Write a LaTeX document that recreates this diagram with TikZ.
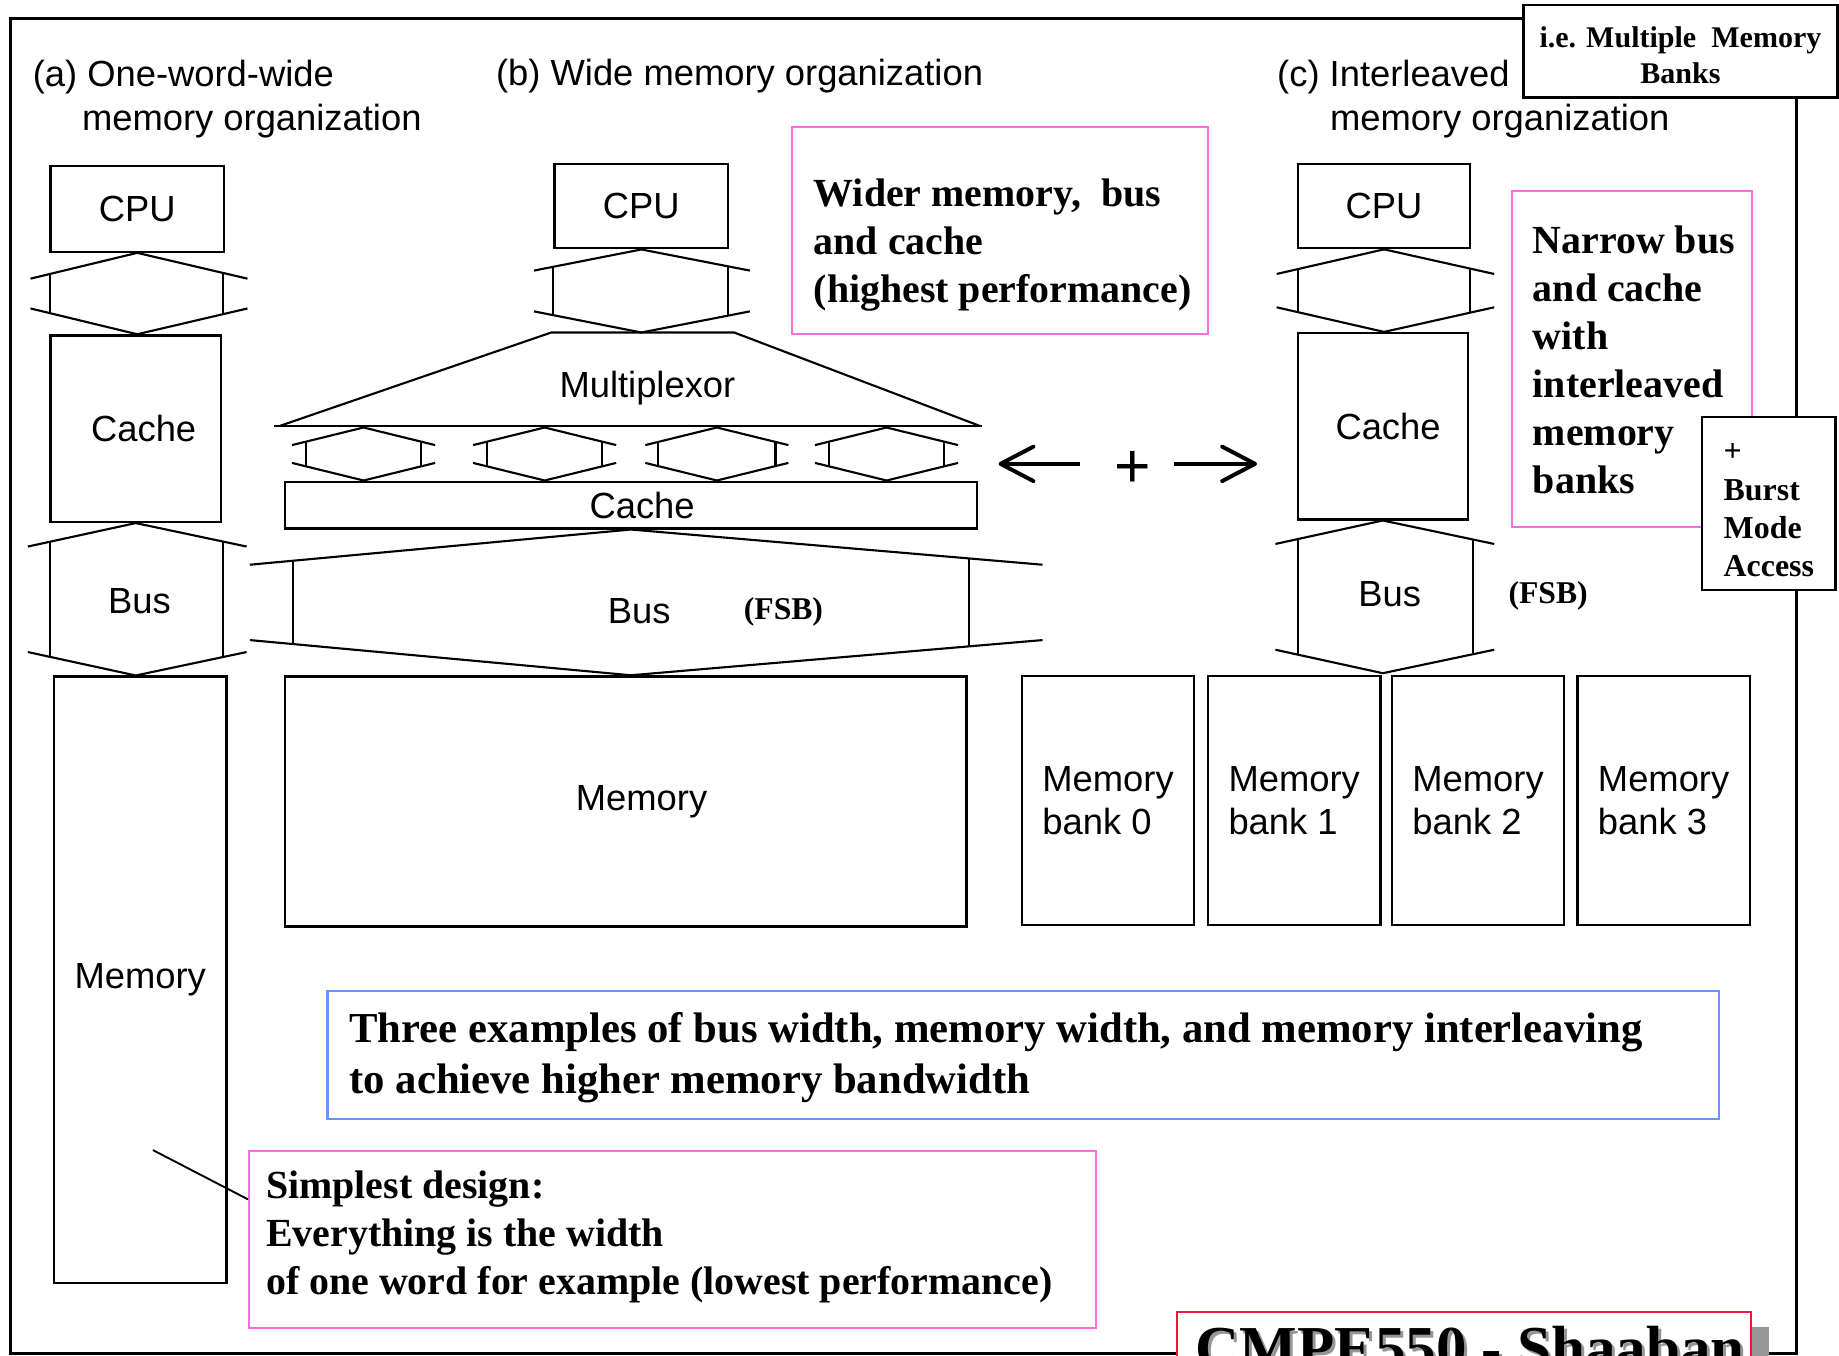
\documentclass[tikz,border=0pt]{standalone}
\usepackage{fontspec}
\setmainfont{Liberation Serif}
\setsansfont{Liberation Sans}
\usetikzlibrary{calc,arrows.meta}

\newlength{\px}
\setlength{\px}{0.75pt}

\definecolor{notepink}{RGB}{242,112,222}
\definecolor{noteblue}{RGB}{104,150,246}
\definecolor{slidered}{RGB}{246,18,56}
\definecolor{shadowgray}{RGB}{150,150,150}

\newcommand{\lblfont}{\sffamily\fontsize{23.25pt}{27.75pt}\selectfont}
\newcommand{\notefont}{\rmfamily\bfseries\fontsize{25.5pt}{30.7pt}\selectfont}

\tikzset{every picture/.style={line width=1.5pt}}
\tikzset{
  blk/.style={draw, line width=1.5pt, inner sep=0pt, font=\lblfont},
  lbl/.style={font=\lblfont, inner sep=0pt},
  busline/.style={line width=1.35pt},
  fsb/.style={font=\rmfamily\bfseries\fontsize{20.25pt}{24pt}\selectfont, inner sep=0pt},
  notebox/.style={draw=notepink, line width=1.3pt, inner sep=0pt},
  notetext/.style={font=\notefont, align=left, anchor=north west, inner sep=0pt},
  slideframe/.style={line width=2.1pt},
  bigarrow/.style={line width=2.55pt, -{Straight Barb[length=21pt,width=22pt,round]}}
}

% wide double headed bus: top apex, bottom point, shaft left/right, barb left/right, head depth
\newcommand{\busar}[7]{%
  \coordinate (bt) at (#1);
  \coordinate (bb) at (#1 |- #2);
  \draw[busline] ($(bt)+(-#5,#7)$) -- (bt) -- ($(bt)+(#6,#7)$);
  \draw[busline] ($(bb)+(-#5,-#7)$) -- (bb) -- ($(bb)+(#6,-#7)$);
  \draw[busline] ($(bt)+(-#3,#7*#3/#5)$) -- ($(bb)+(-#3,-#7*#3/#5)$);
  \draw[busline] ($(bt)+(#4,#7*#4/#6)$) -- ($(bb)+(#4,-#7*#4/#6)$);
}

\begin{document}
\begin{tikzpicture}[x=0.75pt,y=0.75pt,yscale=-1,xscale=1]
\useasboundingbox (0,0) rectangle (1568,1156);
\clip (0,0) rectangle (1568,1156);

% slide frame
\draw[slideframe] (1300,15.5) -- (9,15.5) -- (9,1154) -- (1532,1154) -- (1532,82);

% titles
\node[lbl, anchor=north west, align=left] (titleA) at (27,50.4) {(a) One-word-wide\\\hspace*{42\px}memory organization};
\node[lbl, anchor=base west] (titleB) at (422,73) {(b) Wide memory organization};
\node[lbl, anchor=north west, align=left] (titleC) at (1088,50.4) {(c) Interleaved\\\hspace*{45\px}memory organization};

% (a) one-word-wide
\node[blk, minimum width=148\px, minimum height=73\px] (cpuA) at (117,178.1) {CPU};
\node[blk, minimum width=145.5\px, minimum height=159\px, label={[lbl,xshift=6.75\px]center:Cache}] (cacheA) at (115.75,365.5) {};
\node[blk, minimum width=147\px, minimum height=516.7\px] (memA) at (119.5,835.3) {Memory};
\busar{cpuA.south}{cacheA.north}{74}{73.5}{91}{94}{22}
\busar{cacheA.south}{memA.north}{72.75}{74.25}{92}{94.5}{20}
\node[lbl] (busAlbl) at (119,513) {Bus};

% (b) wide memory
\node[blk, minimum width=148\px, minimum height=71.8\px] (cpuB) at (546.85,175.8) {CPU};
\coordinate (muxTL) at (470,283.5);
\coordinate (muxTR) at (626,283.5);
\coordinate (muxBL) at (239,363);
\coordinate (muxBR) at (835,363);
\draw[busline] (muxBL) -- (muxTL) -- (muxTR) -- (muxBR);
\draw[line width=1.5pt] ($(muxBL)+(-5,0)$) -- ($(muxBR)+(2,0)$);
\node[lbl] (muxlbl) at (552,331) {Multiplexor};
\busar{cpuB.south}{muxTL}{75}{74}{91.5}{92.5}{18}
\node[blk, minimum width=590.2\px, minimum height=39.8\px, label={[lbl,xshift=9.6\px]center:Cache}] (cacheB) at (537.9,430.6) {};
\coordinate (sc1) at (310,364.5);
\coordinate (sc2) at (464.4,364.5);
\coordinate (sc3) at (611.2,364.5);
\coordinate (sc4) at (755.9,364.5);
\busar{sc1}{cacheB.north}{49}{49}{61}{61}{15}
\busar{sc2}{cacheB.north}{49}{49}{61}{61}{15}
\busar{sc3}{cacheB.north}{50}{50}{61}{61}{15}
\busar{sc4}{cacheB.north}{49}{49}{61}{61}{15}
\node[blk, minimum width=581.2\px, minimum height=213.3\px, label={[lbl,xshift=13.6\px]center:Memory}] (memB) at (533.4,683.4) {};
\busar{cacheB.south}{memB.north}{287.9}{288.6}{324.9}{351}{30}
\node[lbl] (busBlbl) at (545,521) {Bus};
\node[fsb] (fsbB) at (668,522) {(FSB)};

% (c) interleaved
\node[blk, minimum width=147\px, minimum height=71.7\px] (cpuC) at (1180.1,175.75) {CPU};
\node[blk, minimum width=145\px, minimum height=158.8\px, label={[lbl,xshift=4.5\px]center:Cache}] (cacheC) at (1179,363.4) {};
\busar{cpuC.south}{cacheC.north}{73.5}{73.5}{91.6}{93.9}{21}
\coordinate (busCend) at (1181,574);
\busar{cacheC.south}{busCend}{72.4}{77}{91.5}{95}{20}
\node[lbl] (busClbl) at (1185,507) {Bus};
\node[fsb] (fsbC) at (1320,508) {(FSB)};
\node[blk, minimum width=147\px, minimum height=212.2\px, align=left] (bank0) at (944.75,682.6) {Memory\\bank 0};
\node[blk, minimum width=147\px, minimum height=212.2\px, align=left] (bank1) at (1103.45,682.6) {Memory\\bank 1};
\node[blk, minimum width=147\px, minimum height=212.2\px, align=left] (bank2) at (1260.25,682.6) {Memory\\bank 2};
\node[blk, minimum width=147\px, minimum height=212.2\px, align=left] (bank3) at (1418.45,682.6) {Memory\\bank 3};

% arrows and plus
\node[font=\sffamily\fontsize{40pt}{40pt}\selectfont, inner sep=0pt] (plus) at (965.5,400.5) {+};
\coordinate (lefttip) at (851.4,395.5);
\coordinate (righttip) at (1071.8,395.5);
\draw[bigarrow, shorten <=44.5\px] (plus.center |- lefttip) -- (lefttip);
\draw[bigarrow, shorten <=35.5\px] (plus.center |- righttip) -- (righttip);

% notes
\node[notebox, minimum width=355.3\px, minimum height=176.4\px] (wideBox) at (852.65,196.8) {};
\node[notetext] (wideTxt) at (692.9,151.8) {Wider memory,~ bus\\and cache\\(highest performance)};
\node[notebox, minimum width=204.6\px, minimum height=286.3\px] (narrowBox) at (1391.3,306.05) {};
\node[notetext] (narrowTxt) at (1306,191.6) {Narrow bus\\and cache\\with\\interleaved\\memory\\banks};
\node[draw, fill=white, line width=1.5pt, minimum width=111.6\px, minimum height=147.7\px, inner xsep=18.4\px, inner ysep=0pt, align=left, font=\rmfamily\bfseries\fontsize{20.4pt}{24.5pt}\selectfont] (burstBox) at (1508.2,429.15) {\\[-5\px]+\\Burst\\Mode\\Access};
\node[draw, fill=white, line width=1.7pt, minimum width=267.6\px, minimum height=78.7\px, inner sep=0pt, align=center, font=\rmfamily\bfseries\fontsize{19.2pt}{23.3pt}\selectfont] (ieBox) at (1432.8,43.65) {\\[-6\px]i.e. Multiple~ Memory\\Banks};

\node[draw=noteblue, line width=1.4pt, minimum width=1186.7\px, minimum height=109.2\px, inner sep=0pt] (threeBox) at (872.65,899.6) {};
\node[notetext, font=\rmfamily\bfseries\fontsize{27.3pt}{32.25pt}\selectfont] (threeTxt) at (297,862.4) {Three examples of bus width, memory width, and memory interleaving\\to achieve higher memory bandwidth};

\node[notebox, minimum width=722.5\px, minimum height=150.6\px] (simpleBox) at (573.55,1056.7) {};
\node[notetext] (simpleTxt) at (226,997.3) {Simplest design:\\Everything is the width\\of one word for example (lowest performance)};
\coordinate (memAnote) at (130.4,980.6);
\draw[line width=1.2pt] (memAnote) -- ($(simpleBox.west)+(0,-34.1)$);

% footer
\node[draw=slidered, fill=white, line width=1.5pt, minimum width=489.2\px, minimum height=62.6\px, inner sep=0pt] (cmpeBox) at (1248.4,1150) {};
\fill[shadowgray] ($(cmpeBox.north east)+(0,14)$) rectangle ($(cmpeBox.south east)+(14,0)$);
\node[font=\rmfamily\bfseries\fontsize{39pt}{39pt}\selectfont, text=shadowgray, anchor=base west, inner sep=0pt] (cmpeShadow) at (1021,1169.5) {CMPE550 - Shaaban};
\node[font=\rmfamily\bfseries\fontsize{39pt}{39pt}\selectfont, anchor=base west, inner sep=0pt] (cmpeTxt) at (1018.3,1167) {CMPE550 - Shaaban};

\end{tikzpicture}
\end{document}
